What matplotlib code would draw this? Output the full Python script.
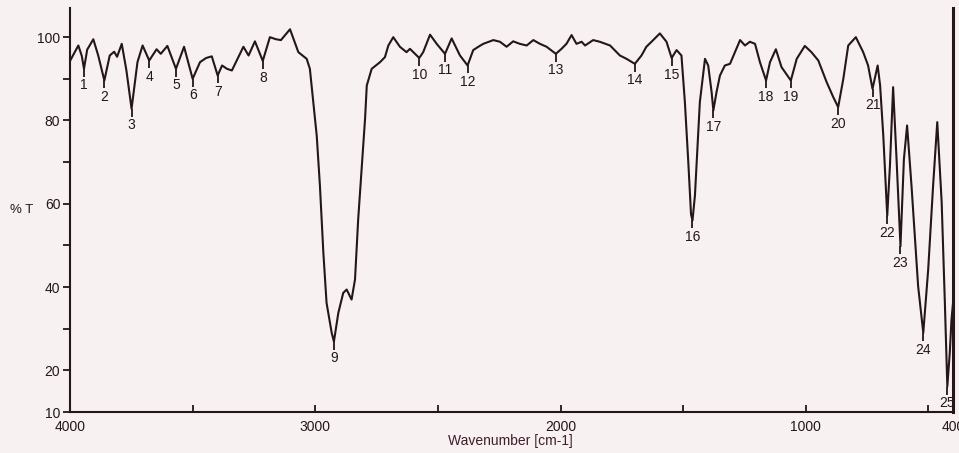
import matplotlib.pyplot as plt

# Espectro IR: número de onda (cm-1) e transmitância (%T)
wavenumber = [4000, 3966, 3952, 3943, 3930, 3905, 3885, 3860, 3838, 3820,
              3808, 3789, 3770, 3749, 3725, 3704, 3677, 3647, 3630, 3603,
              3568, 3535, 3500, 3470, 3445, 3422, 3398, 3380, 3360, 3340,
              3293, 3272, 3246, 3214, 3185, 3160, 3140, 3103, 3069, 3035,
              3022, 3008, 2994, 2981, 2967, 2954, 2933, 2924, 2906, 2886,
              2872, 2852, 2838, 2825, 2811, 2797, 2790, 2770, 2736, 2716,
              2702, 2682, 2655, 2628, 2614, 2576, 2560, 2532, 2505, 2471,
              2444, 2410, 2379, 2356, 2335, 2315, 2274, 2247, 2220, 2193,
              2166, 2138, 2111, 2084, 2057, 2019, 1996, 1976, 1955, 1935,
              1914, 1900, 1867, 1840, 1798, 1758, 1731, 1697, 1670, 1650,
              1629, 1595, 1568, 1547, 1527, 1507, 1493, 1479, 1468, 1462,
              1452, 1445, 1432, 1411, 1398, 1384, 1377, 1364, 1350, 1330,
              1309, 1289, 1268, 1248, 1228, 1207, 1187, 1162, 1146, 1122,
              1099, 1061, 1037, 1004, 977, 949, 915, 888, 868, 847,
              827, 796, 766, 746, 728, 707, 697, 684, 668, 657,
              644, 630, 614, 600, 587, 569, 542, 521, 501, 481,
              464, 446, 433, 423, 413, 406, 400]
transmittance = [94.3, 98.0, 95.5, 92.4, 97.0, 99.5, 95.6, 89.6, 95.6, 96.5,
                 95.3, 98.4, 92.0, 82.8, 94.0, 98.0, 94.4, 97.1, 96.0, 97.9,
                 92.4, 97.7, 90.0, 94.0, 95.0, 95.4, 90.8, 93.2, 92.4, 92.0,
                 97.7, 95.6, 99.0, 94.3, 100.0, 99.5, 99.3, 101.9, 96.4, 94.8,
                 92.4, 84.4, 76.3, 64.3, 48.2, 36.2, 29.0, 26.9, 33.8, 38.6,
                 39.4, 37.0, 41.8, 56.3, 68.3, 80.4, 88.4, 92.4, 94.0, 95.2,
                 98.0, 100.0, 97.7, 96.4, 97.2, 95.0, 96.4, 100.6, 98.4, 96.0,
                 99.7, 95.6, 93.2, 96.9, 97.7, 98.4, 99.3, 98.9, 97.7, 99.0,
                 98.4, 98.0, 99.3, 98.4, 97.7, 96.0, 97.2, 98.4, 100.5, 98.4,
                 98.9, 98.0, 99.3, 98.9, 98.0, 95.6, 94.8, 93.6, 95.6, 97.7,
                 98.9, 100.9, 98.9, 95.0, 96.9, 95.6, 84.4, 69.9, 57.5, 56.0,
                 62.0, 69.9, 84.4, 94.8, 93.2, 86.8, 82.4, 86.8, 90.8, 93.2,
                 93.6, 96.4, 99.3, 98.0, 98.9, 98.4, 94.0, 89.6, 94.0, 97.1,
                 92.8, 89.6, 94.8, 97.9, 96.4, 94.4, 89.2, 85.6, 83.2, 90.0,
                 98.0, 100.0, 96.4, 93.2, 87.6, 93.2, 88.4, 76.3, 57.1, 69.1,
                 88.0, 70.7, 49.8, 70.7, 78.8, 64.3, 40.2, 29.0, 44.2, 64.3,
                 79.6, 60.3, 36.2, 16.1, 24.2, 32.2, 36.0]

# Picos numerados
peak_num = [str(i) for i in range(1, 26)]
peak_wn = [3943, 3860, 3749, 3677, 3568, 3500, 3398, 3214, 2924, 2576,
           2471, 2379, 2019, 1697, 1547, 1462, 1377, 1162, 1061, 868,
           728, 668, 614, 521, 423]
peak_t = [92.4, 89.6, 82.8, 94.4, 92.4, 90.0, 90.8, 94.3, 26.9, 95.0,
          96.0, 93.2, 96.0, 93.6, 95.0, 56.0, 82.4, 89.6, 89.6, 83.2,
          87.6, 57.1, 49.8, 29.0, 16.1]

plt.rcParams['font.family'] = ['Liberation Sans', 'DejaVu Sans']
ink = '#241619'
bg = '#f8f1f2'

fig = plt.figure(figsize=(9.59, 4.53), dpi=100, facecolor=bg)
ax = fig.add_axes([0.073, 0.0905, 0.9207, 0.8918], facecolor=bg)

ax.plot(wavenumber, transmittance, color=ink, linewidth=1.5)
ax.plot(peak_wn, peak_t, linestyle='none', marker=3, markersize=6,
        markeredgewidth=1.3, color=ink)

for num, w, t in zip(peak_num, peak_wn, peak_t):
    ax.annotate(num, (w, t), xytext=(0, -12), textcoords='offset points',
                ha='center', va='center', fontsize=10, color=ink)

ax.set_xlim(4000, 400)
ax.set_ylim(10, 107)

ax.set_xticks([4000, 3000, 2000, 1000, 400])
ax.set_xticklabels(['4000', '3000', '2000', '1000', '400'])
ax.set_xticks([3500, 2500, 1500, 500], minor=True)
ax.set_yticks([10, 20, 40, 60, 80, 100])
ax.set_yticks([30, 50, 70, 90], minor=True)

ax.tick_params(axis='x', which='both', direction='in', length=5, width=1.3,
               colors=ink, labelsize=10, pad=6)
ax.tick_params(axis='y', which='both', direction='out', length=5, width=1.3,
               colors=ink, labelsize=10, pad=2)

ax.spines['top'].set_visible(False)
for side in ['left', 'bottom', 'right']:
    ax.spines[side].set_color(ink)
    ax.spines[side].set_linewidth(1.5)
ax.spines['right'].set_linewidth(2.2)

fig.text(0.023, 0.536, '% T', fontsize=9.5, color=ink, ha='center', va='center')
fig.text(0.532, 0.026, 'Wavenumber [cm-1]', fontsize=10, color='#3f1d2b',
         ha='center', va='center')

fig.savefig('out.png', dpi=100, facecolor=bg)
